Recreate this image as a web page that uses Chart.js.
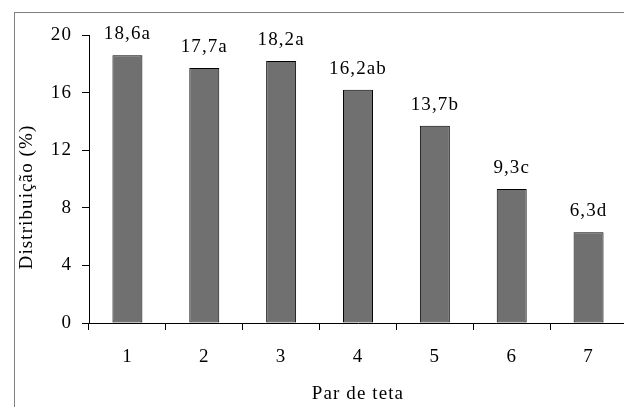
<!DOCTYPE html>
<html>
<head>
<meta charset="utf-8">
<script src="https://cdn.jsdelivr.net/npm/chart.js@4.4.0/dist/chart.umd.min.js"></script>
<style>
  html, body { margin: 0; padding: 0; background: #fff; overflow: hidden; }
  #wrap { position: relative; width: 624px; height: 407px; overflow: hidden; }
  #frame { position: absolute; left: 14px; top: 12px; width: 700px; height: 500px; border: 1px solid #808080; }
  #box { position: absolute; left: 0; top: 0; width: 640px; height: 407px; }
</style>
</head>
<body>
<div id="wrap">
  <div id="frame"></div>
  <div id="box"><canvas id="chart" width="640" height="407"></canvas></div>
</div>
<script>
const categories = ["1", "2", "3", "4", "5", "6", "7"];
const values = [18.6, 17.7, 18.2, 16.2, 13.7, 9.3, 6.3];
const letters = ["a", "a", "a", "ab", "b", "c", "d"];
const yTitle = "Distribuição (%)";
const xTitle = "Par de teta";

const fontFamily = "'Liberation Serif', 'Times New Roman', serif";
const fontSize = 19;

// letras um pouco mais espaçadas, como na figura original
const spacing = {
  id: "spacing",
  beforeDraw(chart) {
    chart.ctx.letterSpacing = "1.1px";
  }
};

// etiquetas sobre as barras e título do eixo y
const barLabels = {
  id: "barLabels",
  afterDatasetsDraw(chart) {
    const ctx = chart.ctx;
    const meta = chart.getDatasetMeta(0);
    ctx.save();
    ctx.font = fontSize + "px " + fontFamily;
    ctx.fillStyle = "#000";
    ctx.textAlign = "center";
    ctx.textBaseline = "alphabetic";
    meta.data.forEach(function (bar, i) {
      let txt = values[i].toFixed(1).replace(".", ",") + letters[i];
      ctx.fillText(txt, bar.x, bar.y - 16);
    });
    // título do eixo y
    const area = chart.chartArea;
    ctx.translate(27, (area.top + area.bottom) / 2 + 18);
    ctx.rotate(-Math.PI / 2);
    ctx.textBaseline = "middle";
    ctx.fillText(yTitle, 0, 0);
    ctx.restore();
  }
};

const ctx = document.getElementById("chart").getContext("2d");
const chart = new Chart(ctx, {
  type: "bar",
  data: {
    labels: categories,
    datasets: [{
      data: values,
      backgroundColor: "#707070",
      borderColor: "#000",
      borderWidth: 1,
      borderSkipped: false,
      categoryPercentage: 1,
      barPercentage: 0.39
    }]
  },
  options: {
    responsive: false,
    animation: false,
    layout: { padding: { top: 35, right: 13, left: 0, bottom: 0 } },
    plugins: {
      legend: { display: false },
      tooltip: { enabled: false }
    },
    scales: {
      x: {
        offset: true,
        grid: { offset: true, drawOnChartArea: false, color: "#000", tickLength: 7, tickColor: "#000" },
        border: { color: "#000", width: 1 },
        ticks: { color: "#000", padding: 16, font: { family: fontFamily, size: fontSize } },
        title: {
          display: true, text: xTitle, color: "#000",
          font: { family: fontFamily, size: fontSize }, padding: { top: 0, bottom: 2 }
        },
        afterFit: function (scale) { scale.height = 84; }
      },
      y: {
        min: 0, max: 20,
        ticks: { stepSize: 4, color: "#000", padding: 10, font: { family: fontFamily, size: fontSize } },
        grid: { drawOnChartArea: false, color: "#000", tickLength: 7, tickColor: "#000" },
        border: { color: "#000", width: 1 },
        afterFit: function (scale) { scale.width = 89; }
      }
    }
  },
  plugins: [spacing, barLabels]
});
</script>
</body>
</html>
